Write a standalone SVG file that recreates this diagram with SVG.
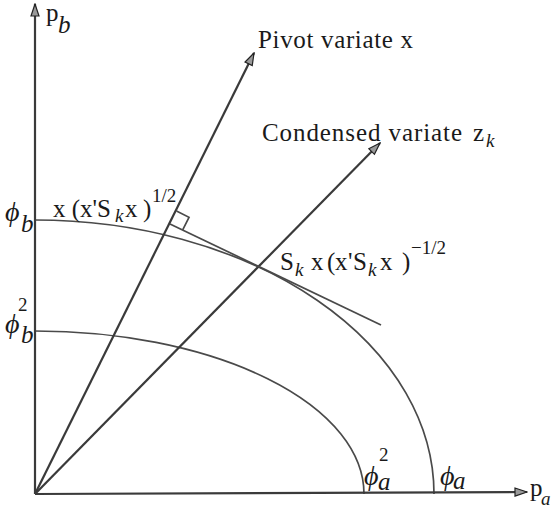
<svg xmlns="http://www.w3.org/2000/svg" width="552" height="508" viewBox="0 0 552 508">
<style>
.ax{stroke:#3a3a3a;stroke-width:2.2;fill:none}
.cv{stroke:#4a4a4a;stroke-width:1.7;fill:none}
.t{font-family:"Liberation Serif","DejaVu Serif",serif;font-size:25px;fill:#1a1a1a}
.i{font-style:italic}
.s{font-size:19px}
.ph{font-size:28px}
</style>
<defs>
<marker id="ah" markerUnits="userSpaceOnUse" markerWidth="14" markerHeight="10" refX="13" refY="5" orient="auto">
<path d="M1,1 L13,5 L1,9 z" fill="#9a9a9a" stroke="#222" stroke-width="1.2"/>
</marker>
</defs>
<rect width="552" height="508" fill="#fff"/>
<g id="curves">
<path class="cv" d="M35,220 A399,274 0 0 1 434,494"/>
<path class="cv" d="M35,331 A329,163 0 0 1 364,494"/>
</g>
<g id="connectors">
<line class="ax" x1="35" y1="494" x2="35" y2="4" marker-end="url(#ah)"/>
<line class="ax" x1="35" y1="494" x2="527" y2="492" marker-end="url(#ah)"/>
<line class="ax" x1="35" y1="494" x2="254" y2="53" marker-end="url(#ah)"/>
<line class="ax" x1="35" y1="494" x2="380" y2="143" marker-end="url(#ah)"/>
<line class="cv" x1="170" y1="224" x2="381" y2="325"/>
<path class="cv" d="M176.5,211.1 L189,217.3 L182.7,229.9"/>
</g>
<g id="labels">
<text class="t" x="46" y="21">p</text>
<text class="t i" x="58" y="33">b</text>
<text class="t" x="530" y="496">p</text>
<text class="t i s" x="541" y="505">a</text>
<text class="t" x="258" y="48" textLength="155">Pivot variate x</text>
<text class="t" x="262" y="141" textLength="200">Condensed variate</text>
<text class="t" x="473" y="141">z</text>
<text class="t i s" x="486" y="147">k</text>
<text class="t" x="53" y="217">x (x'S</text>
<text class="t i s" x="115" y="222">k</text>
<text class="t" x="125 143" y="217">x)</text>
<text class="t s" x="152" y="202">1/2</text>
<text class="t" x="280" y="270">S</text>
<text class="t i s" x="295" y="276">k</text>
<text class="t" x="311 327 335 348 353" y="270">x(x'S</text>
<text class="t i s" x="368" y="276">k</text>
<text class="t" x="380 402" y="270">x)</text>
<text class="t s" x="411" y="254">−1/2</text>
<text class="t i ph" x="5" y="221">ϕ</text>
<text class="t i" x="21" y="232">b</text>
<text class="t i ph" x="5" y="333">ϕ</text>
<text class="t s" x="18" y="311">2</text>
<text class="t i" x="21" y="343">b</text>
<text class="t i ph" x="364" y="485">ϕ</text>
<text class="t s" x="379" y="461">2</text>
<text class="t i" x="378" y="490">a</text>
<text class="t i ph" x="440" y="485">ϕ</text>
<text class="t i" x="453" y="489">a</text>
</g>
</svg>
